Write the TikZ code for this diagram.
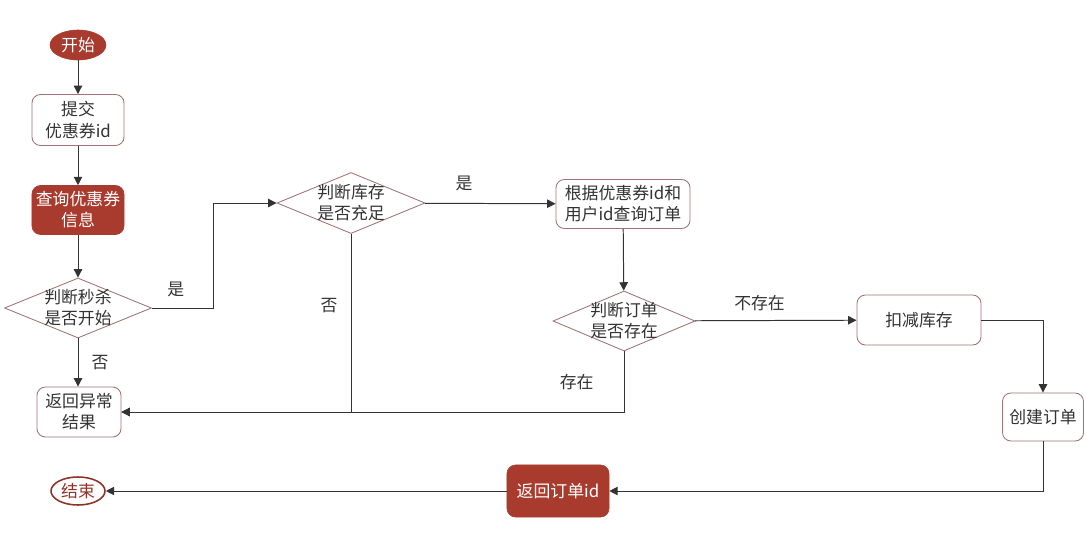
\documentclass[tikz,border=0pt]{standalone}
\usepackage{fontspec}
\newfontfamily\cjk{Noto Sans CJK SC}
\usetikzlibrary{shapes.geometric, arrows.meta, positioning, calc}

\definecolor{flowred}{HTML}{A83B2D}
\definecolor{flowedge}{HTML}{A07272}
\definecolor{flowtext}{HTML}{333333}

\begin{document}
\begin{tikzpicture}[
    x=0.025cm, y=-0.025cm,
    every node/.style={font=\cjk\fontsize{12}{15}\selectfont, text=flowtext},
    terminal/.style={ellipse, fill=flowred, draw=flowred, text=white, minimum width=1.4cm, minimum height=0.75cm, inner sep=0pt},
    endterm/.style={ellipse, draw=flowred!85!black, line width=1.1pt, text=flowred!85!black, minimum width=1.35cm, minimum height=0.7cm, inner sep=0pt},
    box/.style={rectangle, rounded corners=6pt, draw=flowedge, line width=0.6pt, fill=white, align=center, inner sep=1pt},
    redbox/.style={rectangle, rounded corners=6pt, draw=flowred, fill=flowred, text=white, align=center, inner sep=1pt},
    decision/.style={diamond, draw=flowedge, line width=0.6pt, align=center, inner sep=-8pt},
    arrow/.style={-{Triangle[length=6pt, width=6pt]}, line width=0.7pt, draw=black!80},
    tag/.style={font=\cjk\fontsize{12}{15}\selectfont, text=flowtext}
]
    \useasboundingbox (0,0) rectangle (1086,552);

    \node[terminal] (start) at (78,45) {开始};
    \node[box, minimum width=2.3cm, minimum height=1.275cm] (submit) at (78,120) {提交\\优惠券id};
    \node[redbox, minimum width=2.3cm, minimum height=1.225cm] (query) at (78,210) {查询优惠券\\信息};
    \node[decision, minimum width=3.675cm, minimum height=1.5cm] (begun) at (78,308) {判断秒杀\\是否开始};
    \node[box, minimum width=2.1cm, minimum height=1.25cm] (fail) at (79,412) {返回异常\\结果};
    \node[endterm] (finish) at (78,491) {结束};

    \node[decision, minimum width=3.7cm, minimum height=1.525cm] (stock) at (351,203) {判断库存\\是否充足};
    \node[box, minimum width=3.35cm, minimum height=1.225cm] (lookup) at (623,204) {根据优惠券id和\\用户id查询订单};
    \node[decision, minimum width=3.55cm, minimum height=1.5cm] (exists) at (624,321) {判断订单\\是否存在};
    \node[box, minimum width=3.1cm, minimum height=1.25cm] (deduct) at (919,320) {扣减库存};
    \node[box, minimum width=2.025cm, minimum height=1.2cm] (create) at (1043,417) {创建订单};
    \node[redbox, minimum width=2.55cm, minimum height=1.3cm] (retid) at (558,491) {返回订单id};

    \draw[arrow] (start) -- (submit);
    \draw[arrow] (submit) -- (query);
    \draw[arrow] (query) -- (begun);
    \draw[arrow] (begun.east) -- node[tag, above, yshift=4pt, xshift=-5pt] {是} ++(62,0) |- (stock.west);
    \draw[arrow] (begun.south) -- node[tag, right, xshift=6pt] {否} (begun.south |- fail.north);
    \draw[arrow] (stock.south) |- node[tag, pos=0.2, left, xshift=-6pt] {否} (fail.east);
    \draw[arrow] (stock) -- node[tag, pos=0.3, above, yshift=5pt] {是} (lookup);
    \draw[arrow] (lookup) -- (exists);
    \draw[arrow] (exists) -- node[tag, pos=0.4, above, yshift=3pt] {不存在} (deduct);
    \draw[arrow] (exists.south) |- node[tag, pos=0.25, left, xshift=-18pt] {存在} (fail.east);
    \draw[arrow] (deduct.east) -| (create.north);
    \draw[arrow] (create.south) |- (retid.east);
    \draw[arrow] (retid) -- (finish);

\end{tikzpicture}
\end{document}
